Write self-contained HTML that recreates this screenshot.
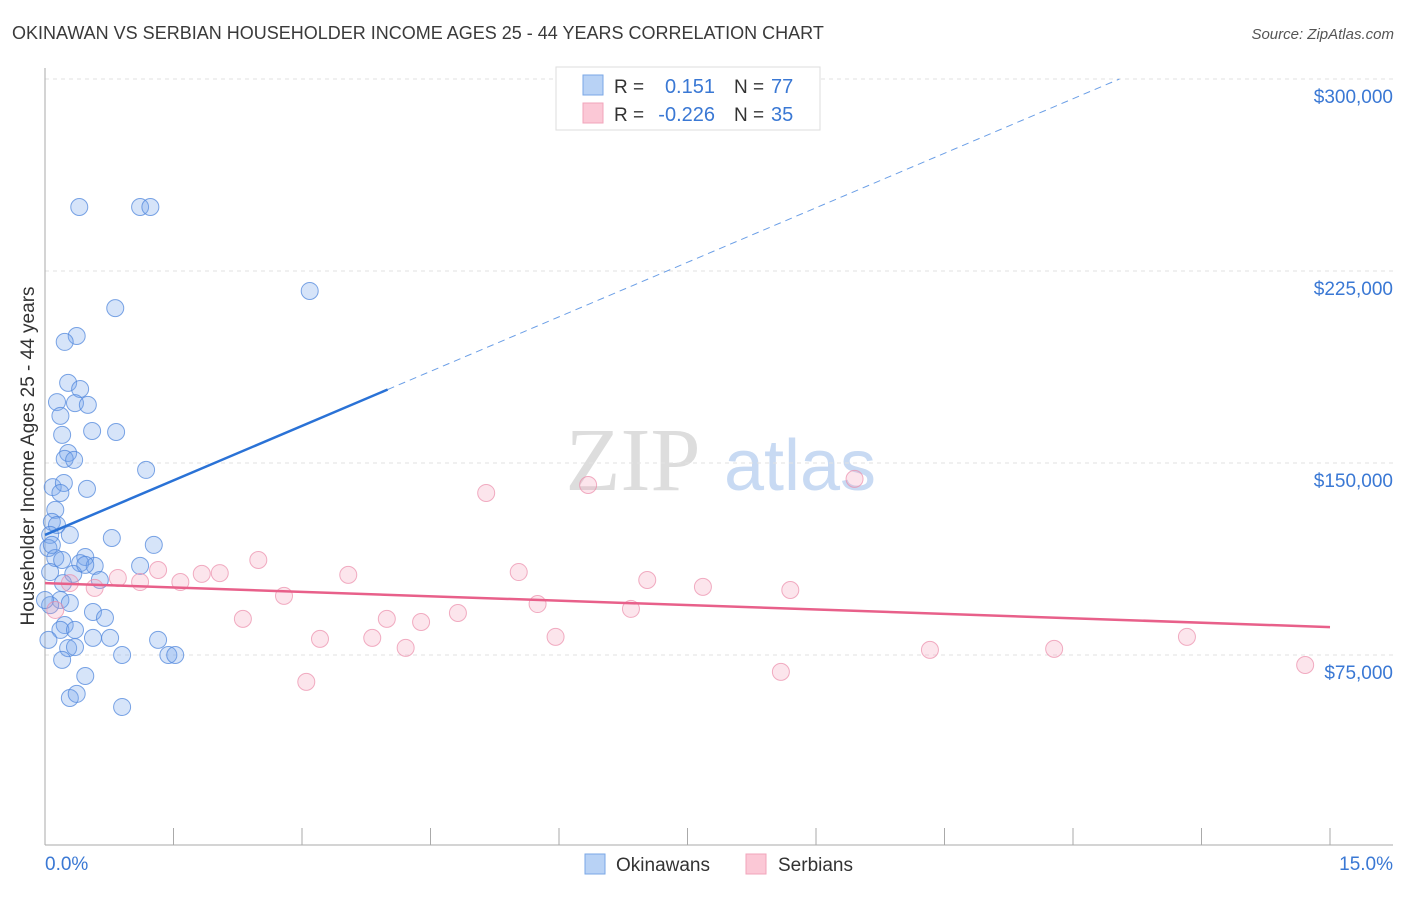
<!DOCTYPE html>
<html><head><meta charset="utf-8"><style>
body{margin:0;background:#fff;font-family:"Liberation Sans",sans-serif}
</style></head><body>
<svg id="c" width="1406" height="892" xmlns="http://www.w3.org/2000/svg" font-family="Liberation Sans, sans-serif">
<text x="12" y="39" font-size="18" fill="#3a3a3a">OKINAWAN VS SERBIAN HOUSEHOLDER INCOME AGES 25 - 44 YEARS CORRELATION CHART</text>
<text x="1394" y="39" font-size="15" fill="#555" text-anchor="end" font-style="italic">Source: ZipAtlas.com</text>
<g>
<text x="633" y="490" font-size="90" fill="#ddd" text-anchor="middle" font-family="Liberation Serif, serif">ZIP</text>
<text x="800" y="490" font-size="72" fill="#c8daf3" text-anchor="middle">atlas</text>
</g>
<g id="grid"></g><g id="axes"></g><g id="marks"></g>
<text transform="translate(34,456) rotate(-90)" font-size="19" fill="#333" text-anchor="middle">Householder Income Ages 25 - 44 years</text>
<text x="45" y="870" font-size="19" fill="#3a78d4">0.0%</text>
<text x="1393" y="870" font-size="19" fill="#3a78d4" text-anchor="end">15.0%</text>
<g>
<rect x="556" y="67" width="264" height="63" fill="#fff" stroke="#ddd"/>
<rect x="583" y="75" width="20" height="20" fill="#b8d2f5" stroke="#7aa7e6"/>
<rect x="583" y="103" width="20" height="20" fill="#fbc8d6" stroke="#f2a4bb"/>
<text x="614" y="93" font-size="19" fill="#333">R =</text>
<text x="715" y="93" font-size="20" fill="#3a78d4" text-anchor="end">0.151</text>
<text x="734" y="93" font-size="19" fill="#333">N =</text>
<text x="771" y="93" font-size="20" fill="#3a78d4">77</text>
<text x="614" y="121" font-size="19" fill="#333">R =</text>
<text x="715" y="121" font-size="20" fill="#3a78d4" text-anchor="end">-0.226</text>
<text x="734" y="121" font-size="19" fill="#333">N =</text>
<text x="771" y="121" font-size="20" fill="#3a78d4">35</text>
</g>
<g>
<rect x="585" y="854" width="20" height="20" fill="#b8d2f5" stroke="#7aa7e6"/>
<text x="616" y="871" font-size="19" fill="#333">Okinawans</text>
<rect x="746" y="854" width="20" height="20" fill="#fbc8d6" stroke="#f2a4bb"/>
<text x="778" y="871" font-size="19" fill="#333">Serbians</text>
</g>
</svg>
<script>
const yTicks=[300000,225000,150000,75000];
const yTickLabels=["$300,000","$225,000","$150,000","$75,000"];
const okX=[0.40,1.11,1.23,3.09,0.82,0.37,0.23,0.27,0.41,0.14,0.35,0.50,0.18,0.20,0.55,0.83,0.27,0.23,0.34,1.18,0.09,0.22,0.18,0.49,0.12,0.08,0.14,0.06,0.29,0.78,1.27,0.04,0.12,0.47,0.20,0.41,0.58,1.11,0.06,0.33,0.64,0.21,0.18,0.06,0.29,0.56,0.70,0.23,0.18,0.35,0.04,0.56,0.76,1.32,0.27,0.35,0.90,1.44,1.52,0.20,0.47,0.29,0.37,0.90,0.00,0.47,0.08];
const okY=[250.0,250.0,250.0,217.2,210.5,199.6,197.3,181.3,178.9,173.8,173.4,172.7,168.4,161.0,162.5,162.1,153.9,151.6,151.2,147.3,140.6,142.2,138.3,139.9,131.7,127.0,125.8,121.9,121.9,120.7,118.0,116.8,112.9,113.3,112.1,110.9,109.8,109.8,107.4,106.7,104.3,103.1,96.5,94.5,95.3,91.8,89.5,86.7,84.8,84.8,80.9,81.7,81.7,80.9,77.7,78.1,75.0,75.0,75.0,73.1,66.8,58.2,59.8,54.7,96.5,110.2,118.0];
const seX=[5.15,6.34,9.45,2.49,1.32,2.04,1.83,3.54,5.53,0.85,1.11,1.58,0.58,7.03,7.68,8.70,2.79,0.29,5.75,6.84,4.82,2.31,3.99,4.39,0.12,3.21,3.82,5.96,4.21,10.33,11.78,13.33,3.05,8.59,14.71];
const seY=[138.3,141.4,143.8,112.1,108.2,107.0,106.7,106.3,107.4,105.1,103.5,103.5,101.2,104.3,101.6,100.4,98.1,103.1,94.9,93.0,91.4,89.1,89.1,87.9,92.6,81.3,81.7,82.1,77.8,77.0,77.4,82.1,64.5,68.4,71.1];
const okTrend=[121.9,14.2]; // intercept ($k), slope per %
const seTrend=[103.1,85.9]; // value at 0% and 15%
const NS="http://www.w3.org/2000/svg";
const X=p=>45+p*85.667, Y=v=>79+(300000-v)*192/75000, Yk=k=>Y(k*1000);
function mk(t,a,parent){const e=document.createElementNS(NS,t);for(const k in a)e.setAttribute(k,a[k]);parent.appendChild(e);return e;}
const grid=document.getElementById('grid'),axes=document.getElementById('axes'),marks=document.getElementById('marks');
yTicks.forEach((v,i)=>{
 const l=mk('line',{x1:45,x2:1393,y1:Y(v),y2:Y(v),stroke:'#e2e2e2','stroke-dasharray':'4,4'},grid);
 
 
 const t=mk('text',{x:1393,y:Y(v)+24,'font-size':19,fill:'#3a78d4','text-anchor':'end'},axes);
 t.textContent=yTickLabels[i];
 
 
});
const ya=mk('line',{x1:45,x2:45,y1:68,y2:845,stroke:'#aaa'},axes);


const xa=mk('line',{x1:45,x2:1393,y1:845,y2:845,stroke:'#aaa'},axes);


for(let i=0;i<=10;i++){const tk=mk('line',{x1:X(i*1.5),x2:X(i*1.5),y1:828,y2:845,stroke:'#aaa'},axes);
 
 }
okX.forEach((x,i)=>{const c=mk('circle',{cx:X(x),cy:Yk(okY[i]),r:8.5,fill:'rgba(120,165,235,0.3)',stroke:'rgba(80,135,220,0.75)','stroke-width':1},marks);
 
 });
seX.forEach((x,i)=>{const c=mk('circle',{cx:X(x),cy:Yk(seY[i]),r:8.5,fill:'rgba(245,160,185,0.28)',stroke:'rgba(235,140,170,0.7)','stroke-width':1},marks);
 
 });
const xEnd=(300-okTrend[0])/okTrend[1];
const t1=mk('line',{x1:X(0),y1:Yk(okTrend[0]),x2:X(4),y2:Yk(okTrend[0]+4*okTrend[1]),stroke:'#2a72d6','stroke-width':2.5},marks);


const t2=mk('line',{x1:X(4),y1:Yk(okTrend[0]+4*okTrend[1]),x2:X(xEnd),y2:Yk(300),stroke:'#6a9ee6','stroke-width':1,'stroke-dasharray':'7,5'},marks);


const t3=mk('line',{x1:X(0),y1:Yk(seTrend[0]),x2:X(15),y2:Yk(seTrend[1]),stroke:'#e8608a','stroke-width':2.5},marks);


</script>
</body></html>
